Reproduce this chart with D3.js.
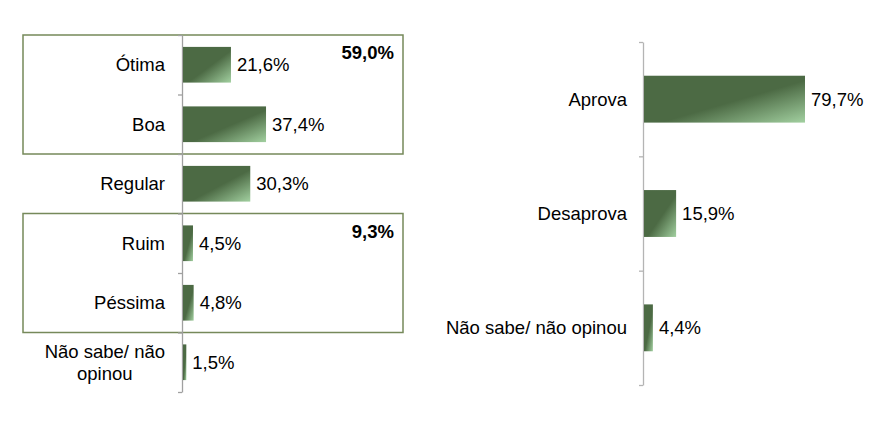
<!DOCTYPE html>
<html>
<head>
<meta charset="utf-8">
<script src="https://cdn.jsdelivr.net/npm/d3@7"></script>
<style>
  body { margin: 0; background: #fff; }
  text { font-family: "Liberation Sans", Arial, sans-serif; }
</style>
</head>
<body>
<script>
// left chart: avaliação
var leftCats = ["Ótima", "Boa", "Regular", "Ruim", "Péssima", "Não sabe/ não opinou"];
var leftVals = [21.6, 37.4, 30.3, 4.5, 4.8, 1.5];
var groupTotals = [59.0, 9.3];
var groupRanges = [["Ótima", "Boa"], ["Ruim", "Péssima"]];

// right chart: aprovação
var rightCats = ["Aprova", "Desaprova", "Não sabe/ não opinou"];
var rightVals = [79.7, 15.9, 4.4];

var fmt = function(v){ return d3.format(".1f")(v).replace(".", ",") + "%"; };
var fs = 18.5;

var svg = d3.select("body").append("svg")
    .attr("width", 882)
    .attr("height", 427);

/* bar gradient */
var grad = svg.append("defs").append("linearGradient")
    .attr("id", "barGrad")
    .attr("x1", 0).attr("y1", 0)
    .attr("x2", 1).attr("y2", 1);
grad.append("stop").attr("offset", "0").attr("stop-color", "#4c6a44");
grad.append("stop").attr("offset", "0.55").attr("stop-color", "#4c6a44");
grad.append("stop").attr("offset", "1").attr("stop-color", "#a2d0a0");

function drawChart(opt){
    var g = svg.append("g").attr("transform", "translate(" + opt.x0 + ",0)");
    var n = opt.cats.length;

    var y = d3.scaleBand()
	.domain(opt.cats)
	.range([opt.top, opt.bottom])
	.paddingInner(opt.pad)
	.paddingOuter(opt.pad / 2);

    var x = d3.scaleLinear()
	.domain([0, 100])
	.range([0, opt.xw]);

    // boundary ticks
    var yb = d3.scaleLinear().domain([0, n]).range([opt.top, opt.bottom]);

    // group boxes (left chart only)
    if(opt.boxes){
	opt.boxes.forEach(function(b, i){
	    var yTop = yb(opt.cats.indexOf(b[0]));
	    var yBot = yb(opt.cats.indexOf(b[1]) + 1);
	    g.append("rect")
		.attr("x", opt.boxX[0])
		.attr("y", yTop)
		.attr("width", opt.boxX[1] - opt.boxX[0])
		.attr("height", yBot - yTop)
		.attr("fill", "none")
		.attr("stroke", "#76895a")
		.attr("stroke-width", 1.5);
	    g.append("text")
		.attr("x", opt.boxX[1] - 9)
		.attr("y", yTop + 24)
		.attr("text-anchor", "end")
		.attr("font-size", fs)
		.attr("font-weight", "bold")
		.attr("fill", "#000")
		.text(fmt(opt.totals[i]));
	});
    }

    var axis = g.append("g")
	.call(d3.axisLeft(yb).tickValues(d3.range(n + 1)).tickFormat("").tickSize(4).tickSizeOuter(0));
    axis.selectAll("path, line").attr("stroke", opt.axisColor).attr("stroke-width", 1.3);

    g.selectAll(".bar")
	.data(opt.vals)
	.enter().append("rect")
	.attr("class", "bar")
	.attr("x", 1)
	.attr("y", function(d, i){ return y(opt.cats[i]); })
	.attr("width", function(d){ return x(d); })
	.attr("height", y.bandwidth())
	.attr("fill", "url(#barGrad)");

    g.selectAll(".val")
	.data(opt.vals)
	.enter().append("text")
	.attr("class", "val")
	.attr("x", function(d){ return x(d) + 7; })
	.attr("y", function(d, i){ return y(opt.cats[i]) + y.bandwidth() / 2; })
	.attr("dy", "0.36em")
	.attr("font-size", fs)
	.attr("fill", "#000")
	.text(fmt);

    // category labels, wrapped where needed
    opt.cats.forEach(function(c, i){
	var lines = (opt.wrap && opt.wrap[c]) ? opt.wrap[c] : [c];
	var cy = y(c) + y.bandwidth() / 2;
	var t = g.append("text")
	    .attr("font-size", fs)
	    .attr("fill", "#000")
	    .attr("text-anchor", "end");
	if(lines.length == 1){
	    t.attr("x", -opt.labelGap).attr("y", cy).attr("dy", "0.36em").text(c);
	} else {
	    // centre the lines on each other, block right-aligned
	    var tmp = g.append("text").attr("font-size", fs).text(lines[0]);
	    var w0 = tmp.node().getComputedTextLength();
	    tmp.remove();
	    var cx = -opt.labelGap - w0 / 2;
	    t.attr("text-anchor", "middle");
	    lines.forEach(function(l, k){
		t.append("tspan")
		    .attr("x", cx)
		    .attr("y", cy + (k - (lines.length - 1) / 2) * 22)
		    .attr("dy", "0.36em")
		    .text(l);
	    });
	}
    });
}

drawChart({
    x0: 182, top: 35, bottom: 392, pad: 0.4, xw: 222,
    cats: leftCats, vals: leftVals,
    boxes: groupRanges, totals: groupTotals, boxX: [-159, 221],
    axisColor: "#a0a0a0", labelGap: 17,
    wrap: {"Não sabe/ não opinou": ["Não sabe/ não", "opinou"]}
});

drawChart({
    x0: 643, top: 42, bottom: 385, pad: 0.59, xw: 202,
    cats: rightCats, vals: rightVals,
    axisColor: "#b4b4b4", labelGap: 16
});
</script>
</body>
</html>
